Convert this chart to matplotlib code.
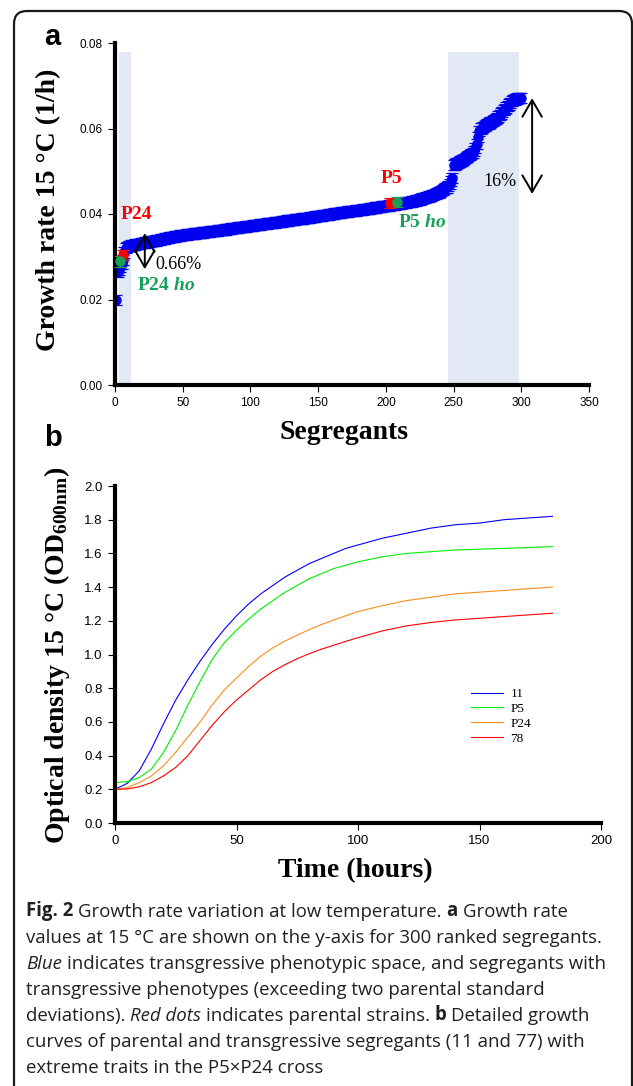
import matplotlib
matplotlib.use("Agg")
import matplotlib.pyplot as plt
import numpy as np
from matplotlib.patches import FancyBboxPatch, FancyArrowPatch
from matplotlib.text import Annotation
from matplotlib.transforms import IdentityTransform

plt.rcParams["font.family"] = "Liberation Sans"
plt.rcParams["mathtext.fontset"] = "custom"
plt.rcParams["mathtext.rm"] = "Liberation Serif:bold"
plt.rcParams["mathtext.bf"] = "Liberation Serif:bold"
plt.rcParams["mathtext.it"] = "Liberation Serif:bold:italic"

SERIF = "Liberation Serif"

# ---- panel a: ranked growth rates of the segregants (1/h, x 1e-5) ----
rate_e5 = [
    1980, 2650, 2700, 2760, 2830, 2920, 3100, 3200, 3230, 3250,
    3258, 3264, 3271, 3279, 3284, 3292, 3299, 3305, 3313, 3320,
    3325, 3333, 3338, 3344, 3349, 3356, 3362, 3367, 3374, 3380,
    3386, 3394, 3400, 3408, 3415, 3421, 3428, 3436, 3442, 3450,
    3455, 3461, 3468, 3473, 3480, 3486, 3491, 3497, 3504, 3510,
    3514, 3517, 3522, 3526, 3529, 3534, 3538, 3541, 3546, 3550,
    3553, 3558, 3561, 3566, 3570, 3573, 3578, 3582, 3585, 3590,
    3594, 3597, 3602, 3606, 3609, 3614, 3618, 3621, 3626, 3630,
    3635, 3639, 3645, 3649, 3654, 3659, 3664, 3670, 3675, 3680,
    3684, 3688, 3691, 3696, 3700, 3704, 3707, 3712, 3716, 3720,
    3725, 3729, 3735, 3740, 3744, 3750, 3755, 3759, 3765, 3770,
    3773, 3778, 3782, 3786, 3790, 3793, 3798, 3802, 3806, 3810,
    3815, 3819, 3825, 3830, 3834, 3840, 3845, 3849, 3855, 3860,
    3863, 3868, 3871, 3875, 3880, 3884, 3887, 3892, 3896, 3900,
    3905, 3909, 3915, 3920, 3924, 3930, 3935, 3939, 3945, 3950,
    3954, 3960, 3965, 3969, 3975, 3980, 3984, 3990, 3995, 4000,
    4004, 4010, 4015, 4019, 4025, 4030, 4034, 4040, 4045, 4050,
    4053, 4058, 4062, 4066, 4070, 4073, 4078, 4082, 4086, 4090,
    4095, 4099, 4105, 4110, 4114, 4120, 4125, 4129, 4135, 4140,
    4144, 4150, 4155, 4159, 4165, 4170, 4174, 4180, 4185, 4190,
    4194, 4200, 4205, 4209, 4215, 4220, 4224, 4230, 4235, 4240,
    4245, 4251, 4257, 4262, 4268, 4274, 4280, 4287, 4293, 4300,
    4308, 4316, 4325, 4333, 4342, 4351, 4360, 4369, 4379, 4390,
    4401, 4412, 4424, 4436, 4448, 4461, 4474, 4487, 4503, 4520,
    4540, 4560, 4580, 4600, 4620, 4660, 4710, 4780, 4850, 5150,
    5160, 5180, 5200, 5215, 5230, 5250, 5270, 5290, 5310, 5330,
    5350, 5380, 5400, 5430, 5470, 5550, 5640, 5800, 5950, 6000,
    6020, 6040, 6060, 6080, 6100, 6120, 6140, 6160, 6180, 6200,
    6220, 6250, 6280, 6310, 6350, 6390, 6430, 6460, 6490, 6520,
    6560, 6600, 6640, 6660, 6680, 6690, 6700, 6705, 6710, 6715,
]
rate = np.array(rate_e5) / 1e5
rank = np.arange(1, len(rate) + 1)
rate_err = 0.0012

parent_rank = [6, 4, 203, 208]
parent_rate = [0.0304, 0.0289, 0.0426, 0.0428]
parent_color = ["#ff0000", "#17a058", "#ff0000", "#17a058"]

transgressive_spans = [(3, 12), (246, 298)]

# ---- panel b: growth curves at 15 C ----
hours = [0, 5, 10, 15, 20, 25, 30, 35, 40, 45, 50, 55, 60, 65, 70, 75, 80,
         85, 90, 95, 100, 110, 120, 130, 140, 150, 160, 170, 180]
od_11 = [0.200, 0.235, 0.31, 0.44, 0.59, 0.73, 0.85, 0.96, 1.06, 1.15, 1.23,
         1.30, 1.36, 1.41, 1.46, 1.50, 1.54, 1.57, 1.60, 1.63, 1.65, 1.69,
         1.72, 1.75, 1.77, 1.78, 1.80, 1.81, 1.82]
od_p5 = [0.240, 0.245, 0.27, 0.32, 0.42, 0.55, 0.70, 0.84, 0.97, 1.07, 1.145,
         1.21, 1.27, 1.32, 1.37, 1.41, 1.45, 1.48, 1.51, 1.53, 1.55, 1.58,
         1.60, 1.61, 1.62, 1.625, 1.63, 1.635, 1.64]
od_p24 = [0.200, 0.21, 0.24, 0.28, 0.34, 0.42, 0.51, 0.60, 0.70, 0.79, 0.86,
          0.93, 0.99, 1.04, 1.08, 1.115, 1.148, 1.178, 1.205, 1.23, 1.255, 1.29,
          1.32, 1.34, 1.36, 1.37, 1.38, 1.39, 1.40]
od_78 = [0.200, 0.202, 0.215, 0.24, 0.28, 0.33, 0.40, 0.49, 0.58, 0.66, 0.73,
         0.79, 0.85, 0.90, 0.94, 0.975, 1.005, 1.032, 1.055, 1.078, 1.10, 1.14,
         1.17, 1.19, 1.205, 1.215, 1.225, 1.235, 1.245]
curve_labels = ["11", "P5", "P24", "78"]
curve_colors = ["#0000ff", "#00ee00", "#ff8c1a", "#ff0000"]

W, H = 633, 1086
fig = plt.figure(figsize=(W / 100, H / 100), dpi=100)


def px_axes(left, top, right, bottom):
    return fig.add_axes([left / W, 1 - bottom / H, (right - left) / W, (bottom - top) / H])


def style_axes(ax, size):
    for s in ("top", "right"):
        ax.spines[s].set_visible(False)
    for s in ("left", "bottom"):
        ax.spines[s].set_linewidth(3)
    ax.tick_params(direction="out", length=5, width=0.8, labelsize=size, pad=4)


# panel a
ax_a = px_axes(115, 43, 589, 385)
for lo, hi in transgressive_spans:
    ax_a.axvspan(lo, hi, ymin=0, ymax=0.078 / 0.08, color="#e3e9f4", lw=0, zorder=0)
ax_a.errorbar(rank, rate, yerr=rate_err, fmt="o", color="#0000f0", ms=6.5,
              capsize=4, elinewidth=0.9, capthick=0.9, zorder=2)
for r, v, c in zip(parent_rank, parent_rate, parent_color):
    ax_a.errorbar([r], [v], yerr=rate_err, fmt="o", color=c, ms=6.5,
                  capsize=4, elinewidth=0.9, capthick=0.9, zorder=3)
ax_a.set_xlim(0, 350)
ax_a.set_ylim(0, 0.08)
ax_a.set_xticks(np.arange(0, 351, 50))
ax_a.set_yticks(np.arange(0, 0.081, 0.02))
ax_a.yaxis.set_major_formatter(matplotlib.ticker.FormatStrFormatter("%.2f"))
style_axes(ax_a, 8.5)

for x0, y0, y1 in [(22, 0.0355, 0.0271), (308, 0.0447, 0.0671)]:
    ax_a.add_patch(FancyArrowPatch((x0, y0), (x0, y1), arrowstyle="<->,head_length=0.6,head_width=0.35",
                                   mutation_scale=20, lw=1.4, color="black",
                                   shrinkA=0, shrinkB=0, zorder=4))
ax_a.text(15.5, 0.0398, "P24", color="#ff0000", family=SERIF, weight="bold",
          fontsize=14, ha="center", va="center")
ax_a.text(16.2, 0.0232, r"P24 $\mathit{ho}$", color="#17a058", family=SERIF,
          weight="bold", fontsize=14, ha="left", va="center")
ax_a.text(29.5, 0.0281, "0.66%", family=SERIF, fontsize=13, ha="left", va="center")
ax_a.text(204, 0.0484, "P5", color="#ff0000", family=SERIF, weight="bold",
          fontsize=14, ha="center", va="center")
ax_a.text(209, 0.0381, r"P5 $\mathit{ho}$", color="#17a058", family=SERIF,
          weight="bold", fontsize=14, ha="left", va="center")
ax_a.text(284.4, 0.0475, "16%", family=SERIF, fontsize=13, ha="center", va="center")

# panel b
ax_b = px_axes(115, 486, 601, 823)
for od, lab, col in zip([od_11, od_p5, od_p24, od_78], curve_labels, curve_colors):
    ax_b.plot(hours, od, color=col, lw=0.8, label=lab)
ax_b.set_xlim(0, 200)
ax_b.set_ylim(0, 2.0)
ax_b.set_xticks(np.arange(0, 201, 50))
ax_b.set_yticks(np.arange(0, 2.01, 0.2))
ax_b.yaxis.set_major_formatter(matplotlib.ticker.FormatStrFormatter("%.1f"))
style_axes(ax_b, 9.5)
ax_b.legend(loc="upper left", bbox_to_anchor=(471 / W, 1 - 688 / H),
            bbox_transform=fig.transFigure, frameon=False, borderpad=0,
            borderaxespad=0, handlelength=2.4, handletextpad=0.6,
            labelspacing=0.2, prop={"family": SERIF, "size": 9.5})

# axis titles and panel letters
fig.text(49 / W, 1 - 210 / H, "Growth rate 15 °C (1/h)", rotation=90, ha="center",
         va="center", family=SERIF, weight="bold", fontsize=20)
fig.text(344 / W, 1 - 433 / H, "Segregants", ha="center", va="center",
         family=SERIF, weight="bold", fontsize=20)
fig.text(57 / W, 1 - 655 / H, r"Optical density 15 °C (OD$_{\mathrm{600nm}}$)",
         rotation=90, ha="center", va="center", family=SERIF, weight="bold", fontsize=20)
fig.text(355 / W, 1 - 871 / H, "Time (hours)", ha="center", va="center",
         family=SERIF, weight="bold", fontsize=20)
fig.text(52 / W, 1 - 37 / H, "a", ha="center", va="center", weight="bold", fontsize=21)
fig.text(53 / W, 1 - 438 / H, "b", ha="center", va="center", weight="bold", fontsize=21)

# caption, drawn segment by segment so the bold and italic words line up
caption_lines = [
    [("Fig. 2", "bold"), ("Growth rate variation at low temperature.", "normal"),
     ("a", "bold"), ("Growth rate", "normal")],
    [("values at 15 °C are shown on the y-axis for 300 ranked segregants.", "normal")],
    [("Blue", "italic"), ("indicates transgressive phenotypic space, and segregants with", "normal")],
    [("transgressive phenotypes (exceeding two parental standard", "normal")],
    [("deviations).", "normal"), ("Red dots", "italic"), ("indicates parental strains.", "normal"),
     ("b", "bold"), ("Detailed growth", "normal")],
    [("curves of parental and transgressive segregants (11 and 77) with", "normal")],
    [("extreme traits in the P5×P24 cross", "normal")],
]
cap_size = 13.4
space_pt = 0.26 * cap_size
for k, line in enumerate(caption_lines):
    prev = None
    for txt, kind in line:
        kw = dict(family="Open Sans", fontsize=cap_size, color="#231f20",
                  weight="bold" if kind == "bold" else "normal",
                  style="italic" if kind == "italic" else "normal")
        if prev is None:
            prev = fig.text(26 / W, 1 - (921 + 26 * k) / H, txt, ha="left",
                            va="bottom", **kw)
        else:
            ann = Annotation(txt, xy=(1, 0), xycoords=prev, xytext=(space_pt, 0),
                             textcoords="offset points", ha="left", va="bottom", **kw)
            fig.add_artist(ann)
            prev = ann

# rounded frame around the whole figure
frame = FancyBboxPatch((14, -40), 632 - 14, 1075 + 40,
                       boxstyle="round,pad=0,rounding_size=13",
                       transform=IdentityTransform(), fill=False, lw=1.6,
                       ec="#1a1a1a")
fig.add_artist(frame)

fig.savefig("out.png", dpi=100)
